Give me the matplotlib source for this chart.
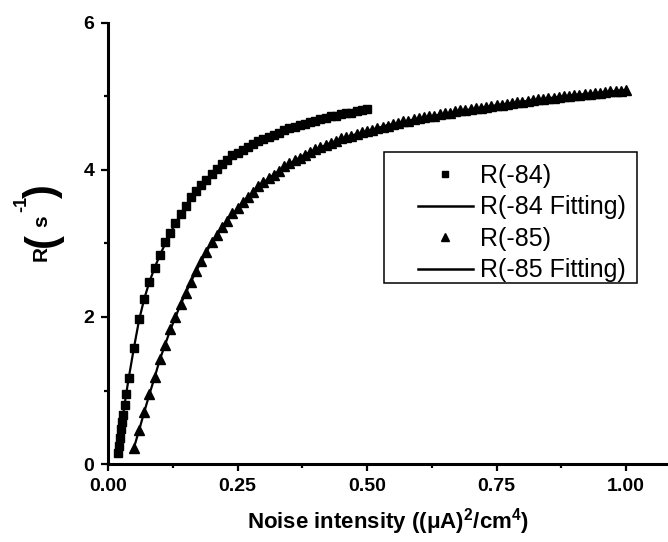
import matplotlib.pyplot as plt
from matplotlib.lines import Line2D
from matplotlib.patches import Rectangle
from matplotlib.ticker import MultipleLocator

plt.rcParams['font.family'] = ['Liberation Sans', 'DejaVu Sans']
plt.rcParams['mathtext.fontset'] = 'custom'
plt.rcParams['mathtext.rm'] = 'Liberation Sans:bold'
plt.rcParams['mathtext.it'] = 'Liberation Sans:bold'
plt.rcParams['mathtext.bf'] = 'Liberation Sans:bold'

# R(-84) measured points
x84 = [0.019, 0.021, 0.023, 0.025, 0.027, 0.029, 0.032, 0.035, 0.040,
       0.05, 0.06, 0.07, 0.08, 0.09, 0.10, 0.11, 0.12, 0.13, 0.14, 0.15,
       0.16, 0.17, 0.18, 0.19, 0.20, 0.21, 0.22, 0.23, 0.24, 0.25,
       0.26, 0.27, 0.28, 0.29, 0.30, 0.31, 0.32, 0.33, 0.34, 0.35,
       0.36, 0.37, 0.38, 0.39, 0.40, 0.41, 0.42, 0.43, 0.44, 0.45,
       0.46, 0.47, 0.48, 0.49, 0.50]
r84 = [0.15, 0.25, 0.36, 0.47, 0.57, 0.66, 0.80, 0.95, 1.17,
       1.58, 1.97, 2.25, 2.47, 2.66, 2.84, 3.02, 3.14, 3.28, 3.40, 3.51,
       3.63, 3.71, 3.80, 3.86, 3.95, 4.02, 4.08, 4.13, 4.20, 4.23,
       4.27, 4.31, 4.35, 4.39, 4.42, 4.45, 4.48, 4.50, 4.54, 4.57,
       4.59, 4.61, 4.63, 4.65, 4.67, 4.70, 4.71, 4.73, 4.74, 4.76,
       4.77, 4.78, 4.80, 4.81, 4.83]

# R(-84) fitted curve
x84_fit = [0.018, 0.025, 0.030, 0.035, 0.040, 0.050, 0.060, 0.070, 0.080,
           0.090, 0.100, 0.120, 0.140, 0.160, 0.180, 0.200, 0.230, 0.260,
           0.300, 0.340, 0.380, 0.420, 0.460, 0.500]
r84_fit = [0.12, 0.47, 0.71, 0.95, 1.17, 1.58, 1.96, 2.25, 2.48,
           2.67, 2.84, 3.14, 3.40, 3.61, 3.80, 3.95, 4.13, 4.27,
           4.42, 4.54, 4.63, 4.71, 4.77, 4.83]

# R(-85) measured points
x85 = [0.05, 0.06, 0.07, 0.08, 0.09, 0.10, 0.11, 0.12, 0.13, 0.14,
       0.15, 0.16, 0.17, 0.18, 0.19, 0.20, 0.21, 0.22, 0.23, 0.24,
       0.25, 0.26, 0.27, 0.28, 0.29, 0.30, 0.31, 0.32, 0.33, 0.34,
       0.35, 0.36, 0.37, 0.38, 0.39, 0.40, 0.41, 0.42, 0.43, 0.44,
       0.45, 0.46, 0.47, 0.48, 0.49, 0.50, 0.51, 0.52, 0.53, 0.54,
       0.55, 0.56, 0.57, 0.58, 0.59, 0.60, 0.61, 0.62, 0.63, 0.64,
       0.65, 0.66, 0.67, 0.68, 0.69, 0.70, 0.71, 0.72, 0.73, 0.74,
       0.75, 0.76, 0.77, 0.78, 0.79, 0.80, 0.81, 0.82, 0.83, 0.84,
       0.85, 0.86, 0.87, 0.88, 0.89, 0.90, 0.91, 0.92, 0.93, 0.94,
       0.95, 0.96, 0.97, 0.98, 0.99, 1.00]
r85 = [0.22, 0.46, 0.71, 0.95, 1.18, 1.43, 1.62, 1.84, 2.00, 2.18,
       2.33, 2.48, 2.63, 2.76, 2.89, 3.02, 3.12, 3.22, 3.30, 3.41,
       3.48, 3.56, 3.63, 3.70, 3.78, 3.83, 3.89, 3.93, 3.99, 4.05,
       4.09, 4.13, 4.16, 4.21, 4.25, 4.29, 4.31, 4.34, 4.37, 4.40,
       4.43, 4.45, 4.46, 4.49, 4.52, 4.53, 4.55, 4.57, 4.59, 4.60,
       4.62, 4.64, 4.66, 4.67, 4.69, 4.71, 4.72, 4.73, 4.74, 4.76,
       4.77, 4.78, 4.80, 4.81, 4.82, 4.83, 4.84, 4.85, 4.86, 4.87,
       4.88, 4.89, 4.90, 4.91, 4.92, 4.93, 4.94, 4.95, 4.96, 4.97,
       4.98, 4.98, 4.99, 5.00, 5.01, 5.02, 5.02, 5.03, 5.04, 5.05,
       5.05, 5.06, 5.07, 5.08, 5.08, 5.09]

# R(-85) fitted curve
x85_fit = [0.05, 0.06, 0.07, 0.08, 0.09, 0.10, 0.12, 0.14, 0.16, 0.18,
           0.20, 0.23, 0.26, 0.30, 0.34, 0.38, 0.43, 0.48, 0.54, 0.60,
           0.67, 0.74, 0.82, 0.90, 0.95, 1.00]
r85_fit = [0.22, 0.46, 0.71, 0.95, 1.18, 1.42, 1.82, 2.17, 2.48, 2.76,
           3.01, 3.31, 3.56, 3.83, 4.04, 4.21, 4.37, 4.49, 4.61, 4.70,
           4.79, 4.87, 4.95, 5.02, 5.05, 5.09]

fig = plt.figure(figsize=(6.68, 5.42), dpi=100)
ax = fig.add_axes([0.1617, 0.1439, 0.8383, 0.8137])

ax.plot(x84_fit, r84_fit, '-', color='black', lw=1.6)
ax.plot(x85_fit, r85_fit, '-', color='black', lw=1.6)
ax.plot(x84, r84, 's', color='black', ms=5.5, clip_on=False)
ax.plot(x85, r85, '^', color='black', ms=7, clip_on=False)

ax.set_xlim(0, 1.081)
ax.set_ylim(0, 6)
ax.set_xticks([0, 0.25, 0.5, 0.75, 1.0])
ax.set_xticklabels(['0.00', '0.25', '0.50', '0.75', '1.00'])
ax.set_yticks([0, 2, 4, 6])
ax.xaxis.set_minor_locator(MultipleLocator(0.125))
ax.yaxis.set_minor_locator(MultipleLocator(1))

for side in ['top', 'right']:
    ax.spines[side].set_visible(False)
for side in ['left', 'bottom']:
    ax.spines[side].set_linewidth(2.2)

ax.tick_params(which='major', direction='out', length=5, width=1.6,
               labelsize=14, pad=5)
ax.tick_params(which='minor', direction='out', length=3, width=1.6)
for lab in ax.get_xticklabels() + ax.get_yticklabels():
    lab.set_fontweight('bold')

ax.set_xlabel('Noise intensity ((μA)$^{2}$/cm$^{4}$)', fontsize=16,
              fontweight='bold')
ax.xaxis.set_label_coords(0.5, -0.095)

# y label pieces: R, large brackets, s with -1 superscript
ylab = [('R', 0.0614, 0.5320, 15),
        ('(', 0.0644, 0.5572, 30),
        ('s', 0.0629, 0.5923, 15),
        ('-1', 0.0320, 0.6230, 13),
        (')', 0.0644, 0.6470, 30)]
for txt, fx, fy, fs in ylab:
    fig.text(fx, fy, txt, rotation=90, ha='center', va='center',
             fontsize=fs, fontweight='bold')

# legend box
fig.patches.append(Rectangle((0.5749, 0.4779), 0.3787, 0.2417,
                             transform=fig.transFigure, fill=False,
                             edgecolor='black', lw=1.1))

handles = [
    Line2D([], [], ls='none', marker='s', color='black', ms=5),
    Line2D([], [], ls='-', color='black', lw=1.8),
    Line2D([], [], ls='none', marker='^', color='black', ms=6),
    Line2D([], [], ls='-', color='black', lw=1.8),
]
labels = ['R(-84)', 'R(-84 Fitting)', 'R(-85)', 'R(-85 Fitting)']
fig.legend(handles, labels, loc='upper left',
           bbox_to_anchor=(0.6257, 0.6975), frameon=False, fontsize=18,
           borderpad=0, borderaxespad=0, handlelength=2.2,
           handletextpad=0.3, labelspacing=0.3)

fig.savefig('out.png', dpi=100)
